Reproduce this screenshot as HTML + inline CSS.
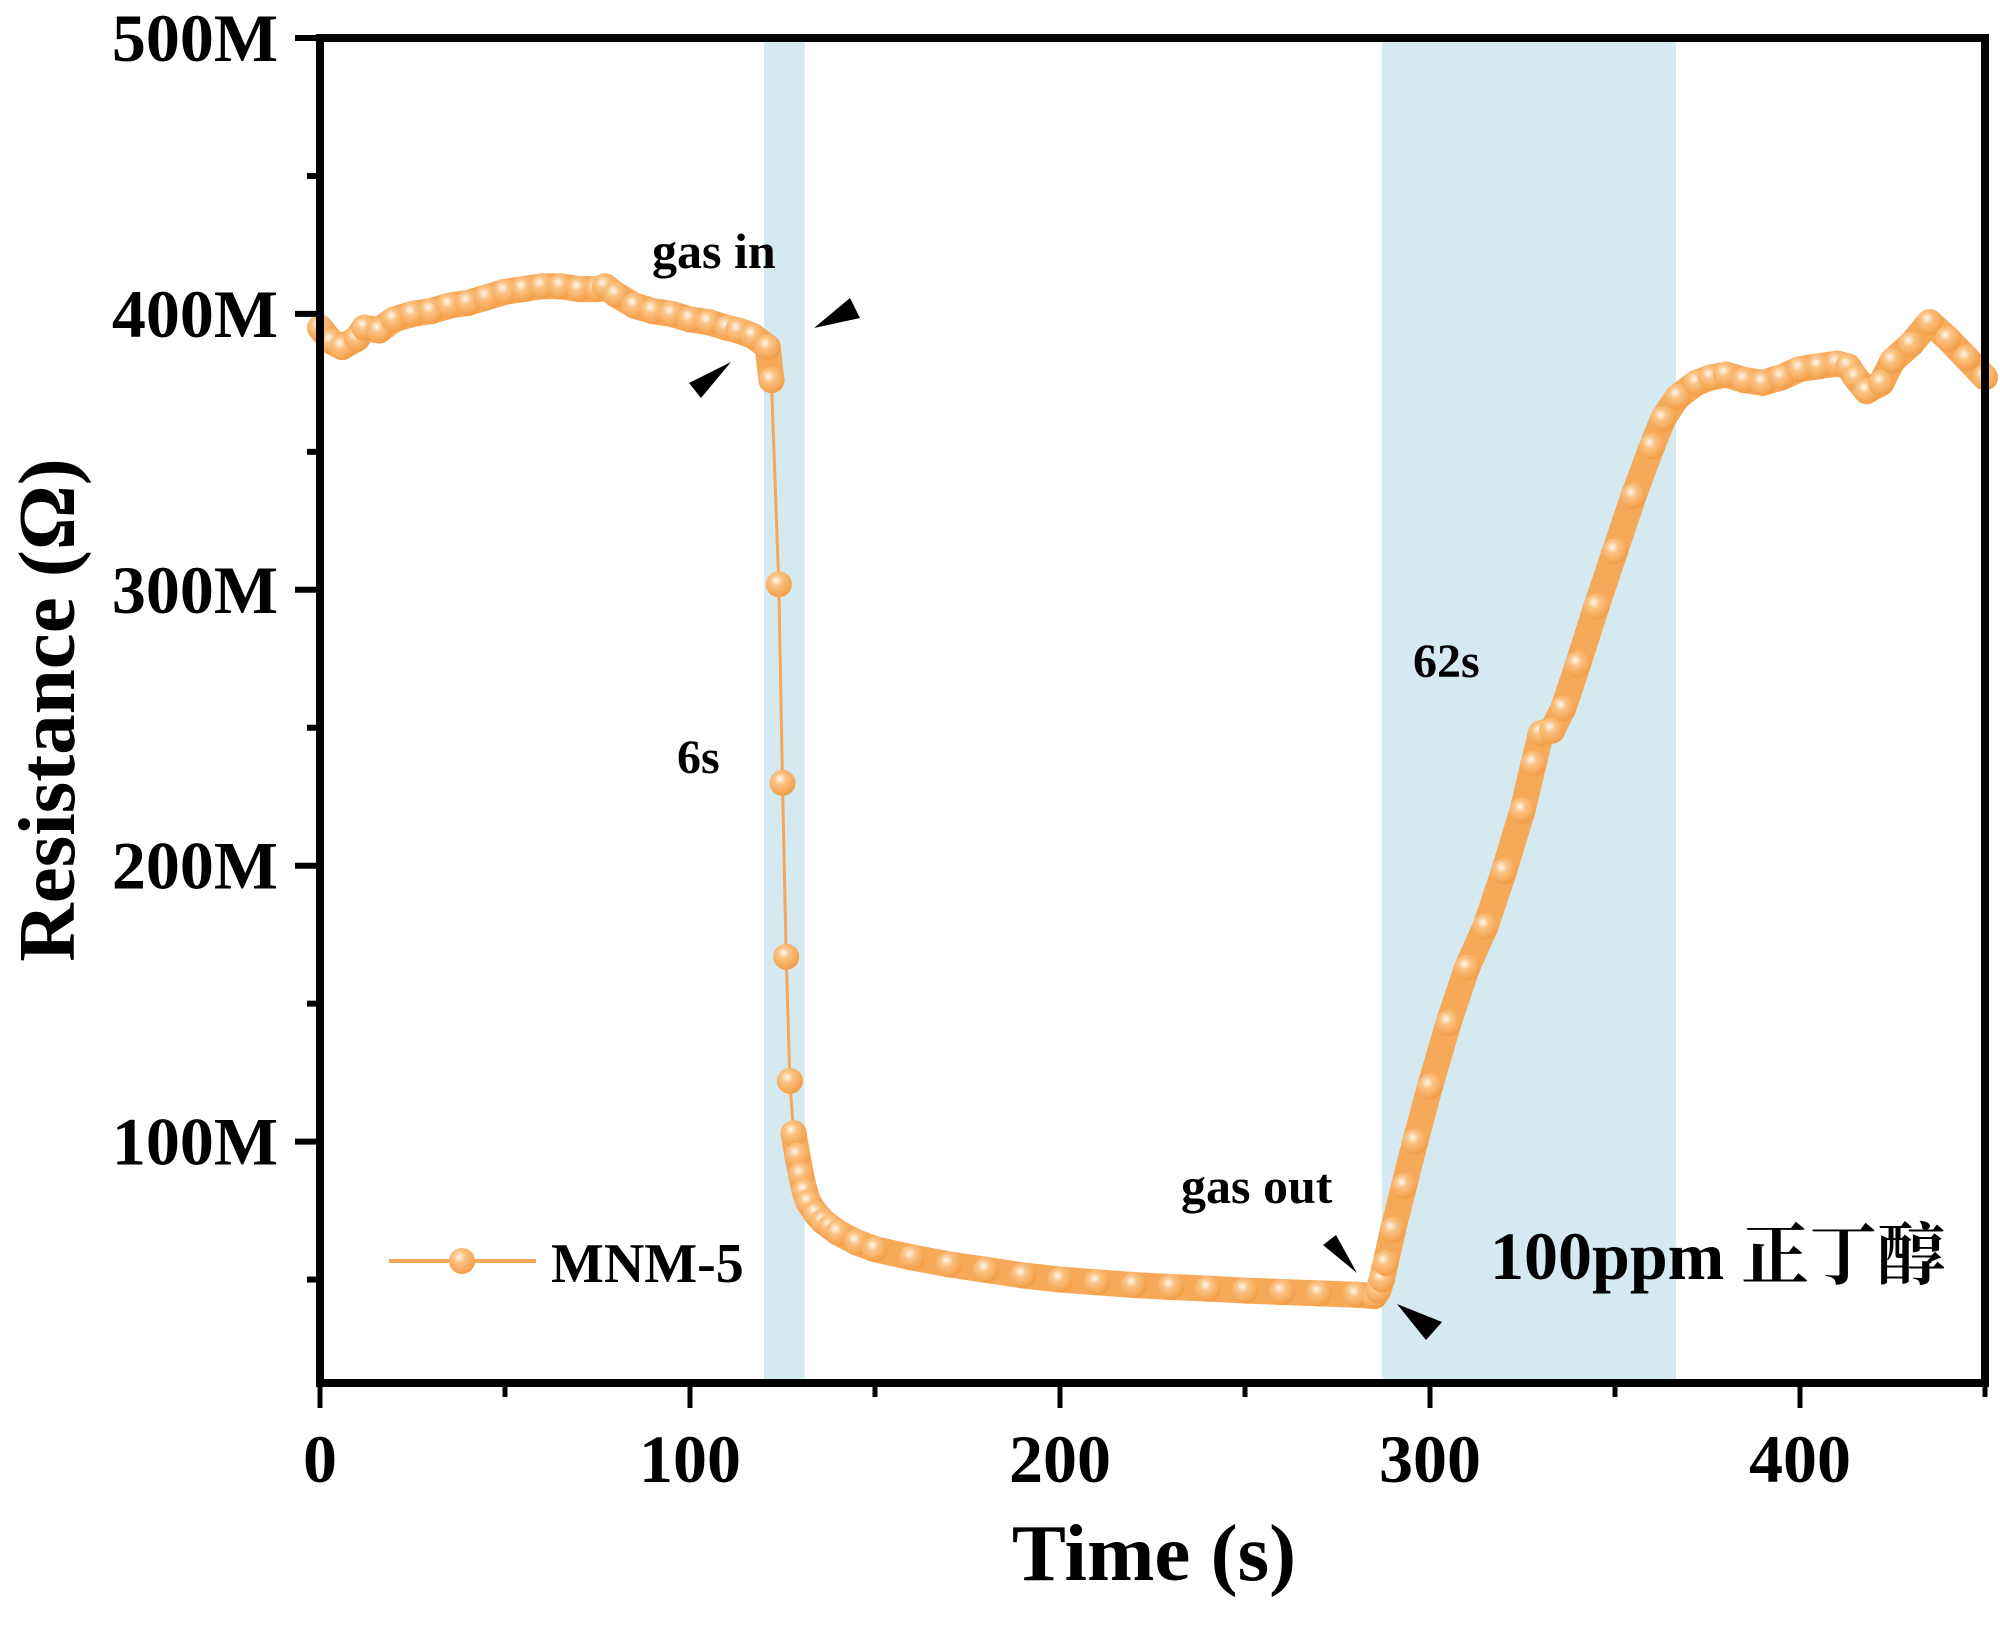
<!DOCTYPE html>
<html><head><meta charset="utf-8"><style>
html,body{margin:0;padding:0;background:#fff;}
svg{display:block;}
text{font-family:"Liberation Serif","Noto Serif CJK SC",serif;font-weight:bold;fill:#000;}
</style></head><body>
<svg id="chart" width="2000" height="1641" viewBox="0 0 2000 1641">
<defs>
<radialGradient id="ball" cx="0.4" cy="0.35" r="0.65">
<stop offset="0" stop-color="#fff8ee"/><stop offset="0.35" stop-color="#fbc283"/><stop offset="1" stop-color="#f39d45"/>
</radialGradient>
</defs>
<g id="bands"></g>
<g id="series"></g>
<g id="axes"></g>
<g id="annot"></g>
</svg>
<script>
const times = [0,3,6,10,12,16,20,25,30,35,40,45,50,55,60,65,70,75,77,80,85,90,95,100,105,110,113,117,121,
122,124,125,126,127,128,129,130,131,132,134,136,138,140,145,150,160,170,180,190,200,210,220,230,240,250,260,270,280,285,
286,287,288,290,293,296,300,305,310,315,320,325,328,330,333,336,340,345,350,355,360,363,367,372,376,380,385,390,395,400,405,410,413,415,418,422,425,430,435,440,445,450];
const values = [395,390,388,391,395,394,398,400,401,403,404,406,408,409,410,410,409,409,410,407,403,401,400,398,397,395,394,392,388,
376,302,230,167,122,103,95,88,82,78,74,71,69,67,63.5,61,58,55.5,53.5,51.5,50,49,48,47.3,46.7,46,45.5,45,44.5,44,
46,50,56,68,84,100,120,143,163,178,198,220,237,248,249,257,273,294,314,334,352,362,370,375,377,378,376,375,377,380,381,382,381,377,372,375,383,389,397,391,384,377];
const xTicks = [0,100,200,300,400];
const yTicks = [100,200,300,400,500];
const yTickLabels = ["100M","200M","300M","400M","500M"];
const bandsData = [[120,131],[287,366.5]];

const NS="http://www.w3.org/2000/svg";
const X0=320,X1=1985,Y0=1383,Y1=38;
const xMin=0,xMax=450,yMin=12.5,yMax=500;
function sx(t){return X0+(t-xMin)/(xMax-xMin)*(X1-X0);}
function sy(v){return Y0-(v-yMin)/(yMax-yMin)*(Y0-Y1);}
function mk(tag,attrs,parent){const e=document.createElementNS(NS,tag);for(const k in attrs)e.setAttribute(k,attrs[k]);parent.appendChild(e);return e;}

const gB=document.getElementById('bands');
bandsData.forEach((b,i)=>{
 const r=mk('rect',{x:sx(b[0]),y:Y1,width:sx(b[1])-sx(b[0]),height:Y0-Y1,fill:'#d5e9f0'},gB);
 
 
});

const gS=document.getElementById('series');
const pts=times.map((t,i)=>[sx(t),sy(values[i])]);
const line=mk('polyline',{points:pts.map(p=>p.join(',')).join(' '),fill:'none',stroke:'#f5a65b','stroke-width':3},gS);


for(let i=0;i<pts.length-1;i++){
 const a=pts[i],b=pts[i+1];const d=Math.hypot(b[0]-a[0],b[1]-a[1]);
 const dt=times[i+1]-times[i];
 if(d<40||(dt>=1.5&&d<150)){const s=mk('line',{x1:a[0],y1:a[1],x2:b[0],y2:b[1],stroke:'#f6a959','stroke-width':26,'stroke-linecap':'round'},gS);
 
 }
}
pts.forEach((p,i)=>{
 const c=mk('circle',{cx:p[0],cy:p[1],r:13,fill:'url(#ball)'},gS);
 
 
});

const gA=document.getElementById('axes');
const frame=mk('rect',{x:X0,y:Y1,width:X1-X0,height:Y0-Y1,fill:'none',stroke:'#000','stroke-width':8},gA);


for(let t=0;t<=450;t+=50){
 const major=t%100===0;
 const tk=mk('line',{x1:sx(t),y1:Y0,x2:sx(t),y2:Y0+(major?25:14),stroke:'#000','stroke-width':5},gA);
 
 
}
xTicks.forEach(t=>{
 const l=mk('text',{x:sx(t),y:1482,'font-size':68,'text-anchor':'middle'},gA);l.textContent=t;
 
 
});
for(let v=50;v<=500;v+=50){
 if(v<yMin)continue;
 const major=v%100===0;
 const tk=mk('line',{x1:X0,y1:sy(v),x2:X0-(major?25:13),y2:sy(v),stroke:'#000','stroke-width':6},gA);
 
 
}
yTicks.forEach((v,i)=>{
 const l=mk('text',{x:278,y:sy(v)+23,'font-size':68,'text-anchor':'end'},gA);l.textContent=yTickLabels[i];
 
 
});
const xt=mk('text',{x:1154,y:1580,'font-size':81,'text-anchor':'middle'},gA);xt.textContent='Time (s)';


const yt=mk('text',{x:0,y:0,'font-size':81,'text-anchor':'middle',transform:'translate(74,710) rotate(-90)'},gA);yt.textContent='Resistance (Ω)';


</script>
<svg style="position:absolute;left:0;top:0" width="2000" height="1641">
<defs><radialGradient id="ball2" cx="0.4" cy="0.35" r="0.65"><stop offset="0" stop-color="#fff8ee"/><stop offset="0.35" stop-color="#fbc283"/><stop offset="1" stop-color="#f39d45"/></radialGradient></defs>
<g>
<line x1="389" y1="1261" x2="536" y2="1261" stroke="#f5a65b" stroke-width="4"/>
<circle cx="462" cy="1261" r="13" fill="url(#ball2)"/>
<text x="551" y="1282" font-size="56">MNM-5</text>
</g>
<text x="652" y="268" font-size="50">gas in</text>
<text x="677" y="773" font-size="48">6s</text>
<text x="1413" y="677" font-size="48">62s</text>
<text x="1181" y="1203" font-size="50">gas out</text>
<text x="1490" y="1279" font-size="68" style="font-family:'Liberation Serif','Noto Serif CJK SC',serif">100ppm 正丁醇</text>
<polygon points="731,362 689,383 701,398" fill="#000"/>
<polygon points="814,328 850,298 860,318" fill="#000"/>
<polygon points="1357,1273 1323,1245 1336,1235" fill="#000"/>
<polygon points="1397,1304 1426,1340 1442,1322" fill="#000"/>
</svg>
</body></html>
